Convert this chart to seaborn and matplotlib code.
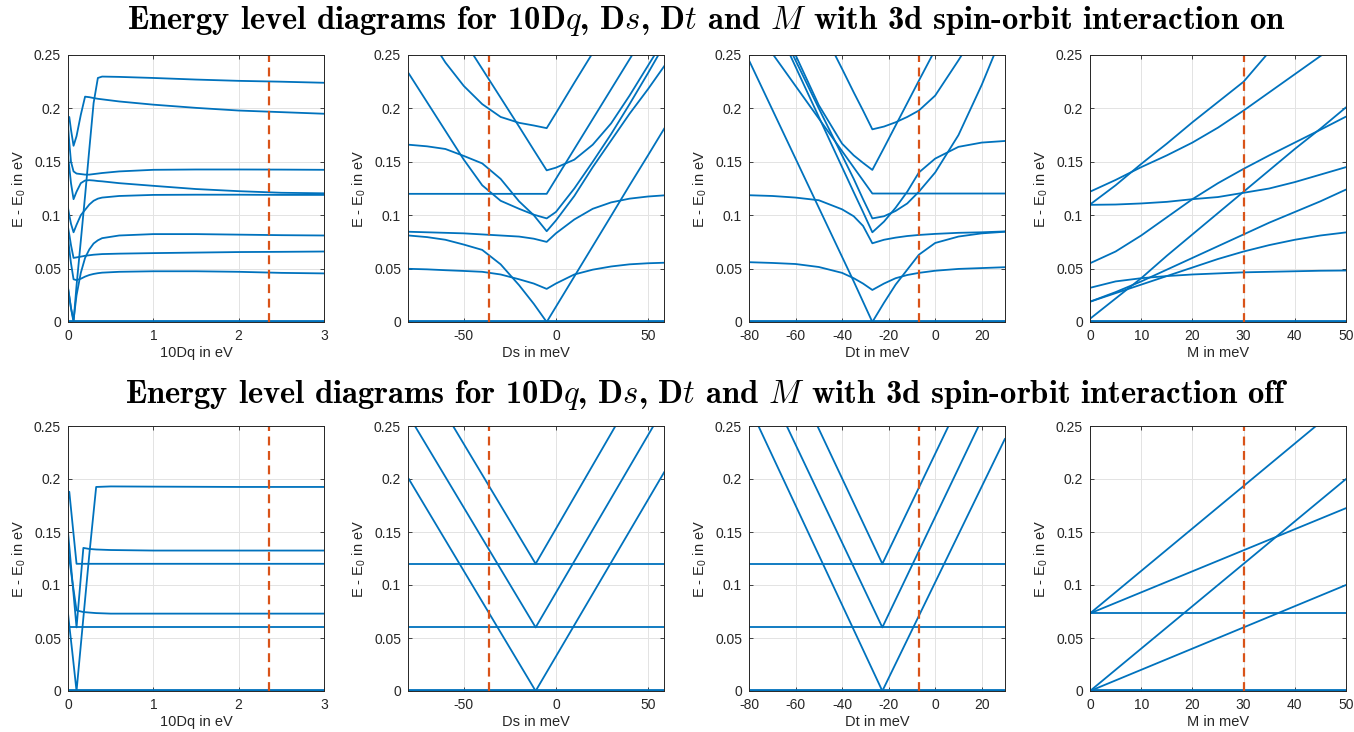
import numpy as np
import pandas as pd
import matplotlib
matplotlib.use('Agg')
import matplotlib.pyplot as plt
import seaborn as sns

sns.set_style('whitegrid')
plt.rcParams['font.family'] = ['Liberation Sans', 'DejaVu Sans']
plt.rcParams['mathtext.fontset'] = 'custom'
plt.rcParams['mathtext.rm'] = 'Liberation Sans'
plt.rcParams['mathtext.it'] = 'Liberation Sans:italic'
plt.rcParams['axes.unicode_minus'] = False

# ---- data (energies in eV) ----
# top row: 3d spin-orbit on
dq_on_x = [0, 0.015, 0.035, 0.065, 0.1, 0.15, 0.2, 0.25, 0.3, 0.35, 0.4, 0.6, 1.0, 1.5, 2.0, 2.5, 3.0]
dq_on_levels = [
    [0.032, 0.024, 0.013, 0.0, 0.034, 0.076, 0.118, 0.162, 0.205, 0.2285, 0.2298, 0.2295, 0.2285, 0.227, 0.2258, 0.225, 0.224],
    [0.188, 0.192, 0.180, 0.165, 0.174, 0.194, 0.211, 0.2105, 0.2097, 0.209, 0.2085, 0.2065, 0.2035, 0.2005, 0.198, 0.1965, 0.195],
    [0.184, 0.168, 0.150, 0.141, 0.139, 0.1385, 0.138, 0.138, 0.1385, 0.139, 0.1395, 0.141, 0.1425, 0.1428, 0.1428, 0.1427, 0.1425],
    [0.155, 0.145, 0.130, 0.115, 0.122, 0.130, 0.1325, 0.1328, 0.1325, 0.132, 0.1317, 0.130, 0.1275, 0.1245, 0.1225, 0.121, 0.1205],
    [0.107, 0.100, 0.092, 0.084, 0.091, 0.100, 0.105, 0.110, 0.1135, 0.1155, 0.1165, 0.118, 0.119, 0.1192, 0.1192, 0.119, 0.119],
    [0.032, 0.024, 0.013, 0.002, 0.025, 0.046, 0.060, 0.068, 0.0735, 0.0765, 0.0785, 0.081, 0.0823, 0.0823, 0.0818, 0.0813, 0.081],
    [0.089, 0.082, 0.072, 0.060, 0.0605, 0.0612, 0.062, 0.0625, 0.063, 0.0633, 0.0636, 0.064, 0.0645, 0.065, 0.0655, 0.0657, 0.066],
    [0.080, 0.068, 0.055, 0.040, 0.0392, 0.0405, 0.0425, 0.044, 0.045, 0.0457, 0.0462, 0.047, 0.0475, 0.0475, 0.047, 0.046, 0.0455],
    [0.0] * 17,
    [0.0012] * 17,
]

ds_on_x = [-80, -70, -60, -50, -40, -30, -20, -12, -5, 0, 10, 20, 30, 40, 50, 59]
ds_on_levels = [
    [0.081, 0.0795, 0.077, 0.0725, 0.0675, 0.054, 0.0345, 0.017, 0.0, 0.0142, 0.0426, 0.071, 0.0994, 0.128, 0.156, 0.1816],
    [0.0498, 0.0493, 0.0485, 0.0478, 0.047, 0.0445, 0.040, 0.036, 0.031, 0.036, 0.0445, 0.049, 0.052, 0.054, 0.055, 0.0555],
    [0.0845, 0.084, 0.0835, 0.083, 0.082, 0.081, 0.080, 0.078, 0.075, 0.083, 0.096, 0.106, 0.112, 0.1155, 0.1175, 0.1186],
    [0.166, 0.1645, 0.162, 0.1555, 0.1485, 0.134, 0.113, 0.100, 0.085, 0.095, 0.118, 0.145, 0.17, 0.195, 0.218, 0.24],
    [0.233, 0.206, 0.179, 0.152, 0.128, 0.1135, 0.106, 0.1005, 0.097, 0.103, 0.125, 0.150, 0.176, 0.204, 0.233, 0.26],
    [0.12, 0.12, 0.12, 0.12, 0.12, 0.12, 0.12, 0.12, 0.12, 0.134, 0.162, 0.190, 0.218, 0.246, 0.274, 0.30],
    [0.345, 0.318, 0.291, 0.264, 0.237, 0.210, 0.183, 0.161, 0.142, 0.1445, 0.152, 0.166, 0.186, 0.212, 0.24, 0.265],
    [0.30, 0.27, 0.243, 0.221, 0.204, 0.192, 0.1865, 0.184, 0.1815, 0.1955, 0.224, 0.252, 0.28, 0.308, 0.336, 0.36],
    [0.0] * 16,
    [0.0012] * 16,
]

dt_on_x = [-80, -70, -60, -50, -40, -35, -31, -27, -22, -17, -12, -7, 0, 10, 20, 30]
dt_on_levels = [
    [0.245, 0.199, 0.153, 0.107, 0.061, 0.038, 0.019, 0.0, 0.018, 0.035, 0.049, 0.063, 0.074, 0.080, 0.083, 0.0845],
    [0.056, 0.0553, 0.0543, 0.0515, 0.046, 0.041, 0.036, 0.030, 0.036, 0.041, 0.044, 0.046, 0.048, 0.0497, 0.0505, 0.0513],
    [0.1187, 0.118, 0.1165, 0.114, 0.1055, 0.099, 0.09, 0.0737, 0.077, 0.079, 0.0805, 0.0815, 0.0825, 0.0835, 0.084, 0.0848],
    [0.333, 0.286, 0.239, 0.192, 0.145, 0.1215, 0.103, 0.084, 0.094, 0.107, 0.122, 0.140, 0.153, 0.164, 0.168, 0.1695],
    [0.335, 0.29, 0.245, 0.2, 0.156, 0.134, 0.115, 0.097, 0.099, 0.104, 0.111, 0.122, 0.140, 0.175, 0.222, 0.275],
    [0.282, 0.2515, 0.221, 0.1905, 0.160, 0.1447, 0.1325, 0.1203, 0.1203, 0.1203, 0.1203, 0.1203, 0.1203, 0.1203, 0.1203, 0.1203],
    [0.34, 0.295, 0.25, 0.203, 0.167, 0.156, 0.149, 0.1424, 0.163, 0.184, 0.205, 0.226, 0.255, 0.297, 0.34, 0.38],
    [0.41, 0.368, 0.324, 0.28, 0.237, 0.215, 0.198, 0.1804, 0.183, 0.187, 0.192, 0.198, 0.212, 0.245, 0.28, 0.31],
    [0.0] * 16,
    [0.0012] * 16,
]

m_on_x = [0, 5, 10, 15, 20, 25, 30, 35, 40, 45, 50]
m_on_levels = [
    [0.110, 0.128, 0.148, 0.167, 0.187, 0.206, 0.225, 0.253, 0.28, 0.30, 0.32],
    [0.122, 0.133, 0.145, 0.156, 0.168, 0.182, 0.198, 0.215, 0.232, 0.249, 0.266],
    [0.1097, 0.110, 0.111, 0.1125, 0.115, 0.117, 0.121, 0.125, 0.131, 0.138, 0.145],
    [0.055, 0.066, 0.081, 0.098, 0.115, 0.130, 0.1434, 0.156, 0.168, 0.180, 0.1923],
    [0.032, 0.038, 0.041, 0.043, 0.0445, 0.0455, 0.0465, 0.047, 0.0475, 0.048, 0.0482],
    [0.019, 0.028, 0.038, 0.049, 0.060, 0.071, 0.082, 0.093, 0.103, 0.113, 0.124],
    [0.003, 0.022, 0.041, 0.062, 0.082, 0.102, 0.122, 0.142, 0.162, 0.181, 0.201],
    [0.019, 0.027, 0.035, 0.043, 0.051, 0.059, 0.066, 0.072, 0.077, 0.081, 0.0839],
    [0.0] * 11,
    [0.0012] * 11,
]

# bottom row: 3d spin-orbit off
dq_off_x = [0, 0.015, 0.05, 0.1, 0.18, 0.25, 0.33, 0.5, 1, 2, 3]
dq_off_levels = [
    [0.182, 0.188, 0.160, 0.120, 0.120, 0.120, 0.120, 0.120, 0.120, 0.120, 0.120],
    [0.150, 0.1365, 0.105, 0.060, 0.135, 0.134, 0.1335, 0.133, 0.1325, 0.1325, 0.1325],
    [0.133, 0.125, 0.104, 0.076, 0.0745, 0.074, 0.0735, 0.073, 0.073, 0.073, 0.073],
    [0.0735, 0.062, 0.037, 0.0, 0.069, 0.129, 0.1925, 0.193, 0.1928, 0.1925, 0.1925],
    [0.06] * 11,
    [0.0] * 11,
    [0.0012] * 11,
]

ds_off_x = [-80, -11, 59]
ds_off_levels = [
    [0.2004, 0.0, 0.207],
    [0.26, 0.06, 0.268],
    [0.32, 0.12, 0.33],
    [0.06, 0.06, 0.06],
    [0.12, 0.12, 0.12],
    [0.0, 0.0, 0.0],
    [0.0012, 0.0012, 0.0012],
]

dt_off_x = [-80, -22.7, 30]
dt_off_levels = [
    [0.269, 0.0, 0.238],
    [0.325, 0.06, 0.302],
    [0.387, 0.12, 0.361],
    [0.06, 0.06, 0.06],
    [0.12, 0.12, 0.12],
    [0.0, 0.0, 0.0],
    [0.0012, 0.0012, 0.0012],
]

m_off_x = [0, 50]
m_off_levels = [
    [0.0732, 0.0732],
    [0.0732, 0.2735],
    [0.0732, 0.1725],
    [0.0, 0.2],
    [0.0, 0.1],
    [0.0, 0.0],
    [0.0012, 0.0012],
]

# chosen parameter values (red dashed markers)
marker_x = [2.35, -36.3, -6.9, 30]

x_labels = ['10Dq in eV', 'Ds in meV', 'Dt in meV', 'M in meV']
x_limits = [(0, 3), (-80.3, 58.7), (-80, 30), (0, 50)]
x_ticks = [[0, 1, 2, 3], [-50, 0, 50], [-80, -60, -40, -20, 0, 20], [0, 10, 20, 30, 40, 50]]
y_ticks = [0, 0.05, 0.1, 0.15, 0.2, 0.25]
y_ticklabels = ['0', '0.05', '0.1', '0.15', '0.2', '0.25']

BLUE = '#0072BD'
RED = '#D95319'

top = [(dq_on_x, dq_on_levels), (ds_on_x, ds_on_levels), (dt_on_x, dt_on_levels), (m_on_x, m_on_levels)]
bottom = [(dq_off_x, dq_off_levels), (ds_off_x, ds_off_levels), (dt_off_x, dt_off_levels), (m_off_x, m_off_levels)]


def to_long(xs, levels):
    rows = []
    for i, lv in enumerate(levels):
        for x, e in zip(xs, lv):
            rows.append((x, e, i))
    return pd.DataFrame(rows, columns=['x', 'E', 'level'])


fig = plt.figure(figsize=(13.54, 7.32), dpi=100)
W, H = 1354.0, 732.0
lefts = [68, 408, 749, 1090]
rows_px = [(55, 322), (426, 691)]

for r, panels in enumerate([top, bottom]):
    y0, y1 = rows_px[r]
    for c, (xs, levels) in enumerate(panels):
        ax = fig.add_axes([lefts[c] / W, 1 - y1 / H, 256 / W, (y1 - y0) / H])
        df = to_long(xs, levels)
        sns.lineplot(data=df, x='x', y='E', units='level', estimator=None, sort=False,
                     color=BLUE, lw=1.3, ax=ax, legend=False)
        ax.axvline(marker_x[c], color=RED, lw=1.6, ls=(0, (4, 2.5)))
        ax.set_xlim(*x_limits[c])
        ax.set_ylim(0, 0.25)
        ax.set_xticks(x_ticks[c])
        ax.set_yticks(y_ticks)
        ax.set_yticklabels(y_ticklabels)
        ax.set_xlabel(x_labels[c], fontsize=10.5, color='#262626', labelpad=2)
        ax.set_ylabel(r'E - $\mathregular{E_0}$ in eV', fontsize=10.5, color='#262626', labelpad=4)
        ax.grid(True, color='#e3e3e3', lw=0.7)
        ax.tick_params(direction='in', length=3, width=0.6, top=True, right=True,
                       bottom=True, left=True, labelsize=10, colors='#262626')
        ax.tick_params(axis='x', pad=5)
        ax.tick_params(axis='y', pad=5)
        for s in ax.spines.values():
            s.set_color('#262626')
            s.set_linewidth(0.7)

titles = [
    r'Energy level diagrams for 10D$q$, D$s$, D$t$ and $M$ with 3d spin-orbit interaction on',
    r'Energy level diagrams for 10D$q$, D$s$, D$t$ and $M$ with 3d spin-orbit interaction off',
]
for t, ty in zip(titles, [0.971, 0.461]):
    fig.text(0.522, ty, t, ha='center', va='center', fontsize=23.5,
             family='cmb10', math_fontfamily='cm', color='black')

fig.savefig('out.png', dpi=100)
